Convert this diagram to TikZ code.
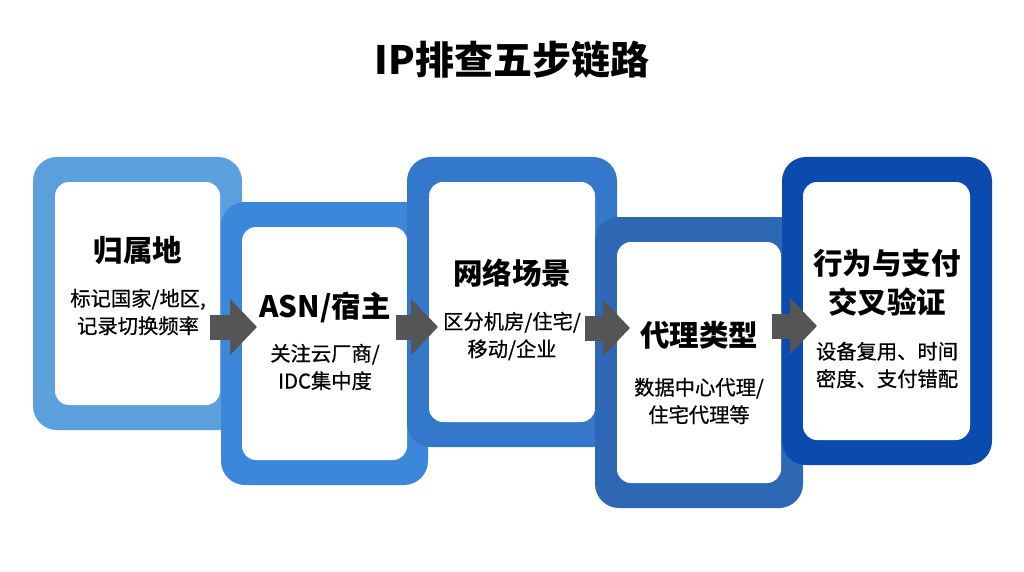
\documentclass[tikz,border=0pt]{standalone}
\usepackage{fontspec}
\setmainfont{Noto Sans CJK SC}
\newfontfamily\subfont[FakeBold=0.6]{Noto Sans CJK SC}
\usetikzlibrary{arrows.meta}
\definecolor{cA}{HTML}{5C9FDD}
\definecolor{cB}{HTML}{3D87DA}
\definecolor{cC}{HTML}{3478CC}
\definecolor{cD}{HTML}{2E68B4}
\definecolor{cE}{HTML}{0B4AAE}
\definecolor{arrowgray}{HTML}{555555}
\begin{document}
\begin{tikzpicture}[x=1pt,y=-1pt,
  outercard/.style={rectangle, rounded corners=24pt, inner sep=0pt, draw=none},
  innercard/.style={rectangle, rounded corners=14pt, inner sep=0pt, fill=white, draw=none},
  ttl/.style={font=\bfseries\fontsize{29.5}{39}\selectfont, align=center, inner sep=0pt, text=black},
  sub/.style={font=\subfont\fontsize{20.3}{27.5}\selectfont, align=center, inner sep=0pt, text=black},
  flow/.style={draw=arrowgray, line width=25pt, -{Triangle[length=27pt, width=55pt]}}
]
\useasboundingbox (0,0) rectangle (1024,572);
\fill[white] (0,0) rectangle (1024,572);

\node[font=\bfseries\fontsize{39}{44}\selectfont, inner sep=0pt] (title) at (512,60) {IP排查五步链路};

% card 1
\node[outercard, fill=cA, minimum width=209pt, minimum height=273pt] (o1) at (137.5,293.5) {};
\node[innercard, minimum width=165pt, minimum height=223pt] (w1) at (137.5,293.5) {};
\node[ttl] (t1) at (138,250) {归属地};
\node[sub] (s1) at (138,312) {标记国家/地区,\\记录切换频率};

% card 2
\node[outercard, fill=cB, minimum width=207pt, minimum height=283pt] (o2) at (324.5,343.5) {};
\node[innercard, minimum width=165pt, minimum height=233pt] (w2) at (324.5,343.5) {};
\node[ttl] (t2) at (325,307) {ASN/宿主};
\node[sub] (s2) at (325,367) {关注云厂商/\\IDC集中度};

% card 3
\node[outercard, fill=cC, minimum width=210pt, minimum height=290pt] (o3) at (512,302) {};
\node[innercard, minimum width=166pt, minimum height=240pt] (w3) at (512,302) {};
\node[ttl] (t3) at (512,273) {网络场景};
\node[sub] (s3) at (512,336) {区分机房/住宅/\\移动/企业};

% card 4
\node[outercard, fill=cD, minimum width=208pt, minimum height=291pt] (o4) at (699,362.5) {};
\node[innercard, minimum width=164pt, minimum height=241pt] (w4) at (699,362.5) {};
\node[ttl] (t4) at (699,335) {代理类型};
\node[sub] (s4) at (699,401) {数据中心代理/\\住宅代理等};

% card 5
\node[outercard, fill=cE, minimum width=210pt, minimum height=308pt] (o5) at (887,311) {};
\node[innercard, minimum width=167pt, minimum height=258pt] (w5) at (886.5,311) {};
\node[ttl] (t5) at (887,283) {行为与支付\\交叉验证};
\node[sub] (s5) at (887,365) {设备复用、时间\\密度、支付错配};

% arrows
\coordinate (a1s) at (210,327); \coordinate (a1e) at (257,327);
\coordinate (a2s) at (396,327); \coordinate (a2e) at (438,327);
\coordinate (a3s) at (585,328); \coordinate (a3e) at (630,328);
\coordinate (a4s) at (772,326); \coordinate (a4e) at (817,326);
\draw[flow] (a1s) -- (a1e);
\draw[flow] (a2s) -- (a2e);
\draw[flow] (a3s) -- (a3e);
\draw[flow] (a4s) -- (a4e);
\end{tikzpicture}
\end{document}
